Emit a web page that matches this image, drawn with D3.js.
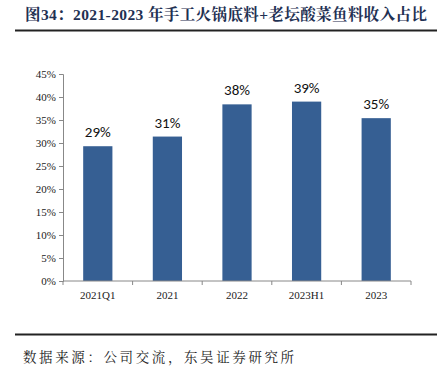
<!DOCTYPE html>
<html>
<head>
<meta charset="utf-8">
<script src="https://cdn.jsdelivr.net/npm/d3@7"></script>
<style>
  body { margin: 0; background: #fff; }
</style>
</head>
<body>
<svg id="chart" width="437" height="370"></svg>
<script>
// data
var categories = ["2021Q1", "2021", "2022", "2023H1", "2023"]
var shares = [29.3, 31.4, 38.4, 39.0, 35.4]
var shareLabels = ["29%", "31%", "38%", "39%", "35%"]
var yTicks = [0, 5, 10, 15, 20, 25, 30, 35, 40, 45]

var svg = d3.select("#chart")
var serif = "'Times New Roman', 'Liberation Serif', 'Noto Serif CJK SC', 'Noto Sans CJK SC', serif"

// title + rules
svg.append("text")
    .attr("x", 25).attr("y", 20)
    .attr("textLength", 402)
    .attr("lengthAdjust", "spacing")
    .style("font-family", serif)
    .style("font-weight", "bold")
    .style("font-size", "15.5px")
    .style("fill", "#1f3153")
    .text("图34：2021-2023 年手工火锅底料+老坛酸菜鱼料收入占比")

svg.append("line")
    .attr("x1", 15).attr("x2", 437).attr("y1", 30.5).attr("y2", 30.5)
    .style("stroke", "#222").style("stroke-width", 2)

svg.append("line")
    .attr("x1", 15).attr("x2", 437).attr("y1", 334.5).attr("y2", 334.5)
    .style("stroke", "#222").style("stroke-width", 2)

svg.append("text")
    .attr("x", 23).attr("y", 362)
    .style("font-family", "'Noto Serif CJK SC', 'Noto Sans CJK SC', serif")
    .style("font-size", "13.5px")
    .style("letter-spacing", "2.6px")
    .style("fill", "#222")
    .text("数据来源：公司交流，东吴证券研究所")

var plotLeft = 63, plotRight = 411, plotTop = 74, plotBottom = 281

var x = d3.scaleBand().domain(categories).range([plotLeft, plotRight]).paddingInner(0.58).paddingOuter(0.29)
var xTicks = d3.scaleBand().domain(categories).range([plotLeft, plotRight])
var y = d3.scaleLinear().domain([0, 45]).range([plotBottom, plotTop])

// y axis
var yAxis = svg.append("g")
    .attr("transform", "translate(" + plotLeft + ",0)")
    .call(d3.axisLeft(y).tickValues(yTicks).tickSize(4).tickPadding(3)
        .tickFormat(function (d) { return d + "%" }))
yAxis.selectAll("path, line").style("stroke", "#888")
yAxis.selectAll("text")
    .style("font-family", serif).style("font-size", "11px").style("fill", "#222")

// bars
svg.selectAll("rect.bar")
    .data(shares)
    .enter().append("rect")
    .attr("class", "bar")
    .attr("x", function (d, i) { return x(categories[i]) })
    .attr("width", x.bandwidth())
    .attr("y", function (d) { return y(d) })
    .attr("height", function (d) { return plotBottom - y(d) })
    .style("fill", "#365f93")

// value labels
svg.selectAll("text.val")
    .data(shares)
    .enter().append("text")
    .attr("class", "val")
    .attr("x", function (d, i) { return x(categories[i]) + x.bandwidth() / 2 })
    .attr("y", function (d) { return y(d) - 9 })
    .attr("text-anchor", "middle")
    .style("font-family", "Carlito, Calibri, 'Liberation Sans', sans-serif")
    .style("font-size", "15px")
    .style("fill", "#111")
    .text(function (d, i) { return shareLabels[i] })

// x axis
var xAxisG = svg.append("g").attr("transform", "translate(0," + plotBottom + ")")
xAxisG.append("line")
    .attr("x1", plotLeft).attr("x2", plotRight)
    .style("stroke", "#888")
xAxisG.selectAll("line.tk")
    .data(categories.concat(["end"]))
    .enter().append("line")
    .attr("class", "tk")
    .attr("x1", function (d, i) { return plotLeft + i * xTicks.step() })
    .attr("x2", function (d, i) { return plotLeft + i * xTicks.step() })
    .attr("y1", 0).attr("y2", 4)
    .style("stroke", "#888")
xAxisG.selectAll("text.lab")
    .data(categories)
    .enter().append("text")
    .attr("class", "lab")
    .attr("x", function (d) { return xTicks(d) + xTicks.bandwidth() / 2 })
    .attr("y", 18)
    .attr("text-anchor", "middle")
    .style("font-family", serif).style("font-size", "11px").style("fill", "#222")
    .text(function (d) { return d })
</script>
</body>
</html>
